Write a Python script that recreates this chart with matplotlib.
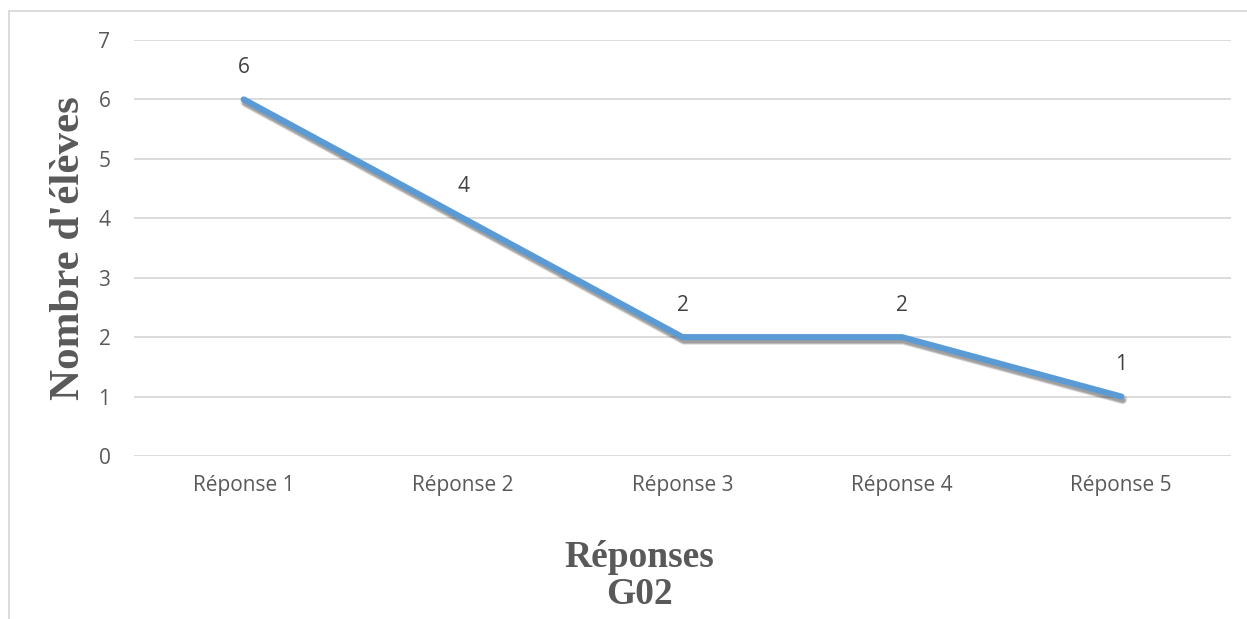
import matplotlib
matplotlib.use("Agg")
import matplotlib.pyplot as plt
import matplotlib.patheffects as pe
from matplotlib.lines import Line2D

categories = ["Réponse 1", "Réponse 2", "Réponse 3", "Réponse 4", "Réponse 5"]
values = [6, 4, 2, 2, 1]
y_ticks = [0, 1, 2, 3, 4, 5, 6, 7]

W, H = 1247, 619
fig = plt.figure(figsize=(W / 100, H / 100), dpi=100)
ax = fig.add_axes([134 / W, 1 - 456 / H, (1231 - 134) / W, (456 - 40) / H])

x = list(range(len(categories)))
shadow = [
    pe.SimpleLineShadow(offset=(1.0, -2.0), shadow_color="#000000", alpha=0.10, linewidth=7.0),
    pe.SimpleLineShadow(offset=(1.0, -2.5), shadow_color="#000000", alpha=0.18, linewidth=5.0),
    pe.SimpleLineShadow(offset=(1.0, -2.5), shadow_color="#000000", alpha=0.15, linewidth=3.5),
    pe.Normal(),
]
ax.plot(x, values, color="#5B9BD5", linewidth=4.4, solid_joinstyle="miter",
        solid_capstyle="round", zorder=3, path_effects=shadow)

for xi, v in zip(x, values):
    ax.annotate(str(v), (xi, v), xytext=(0, 23), textcoords="offset points",
                ha="center", va="center", fontsize=15, color="#404040", family="Open Sans")

ax.set_xlim(-0.5, len(categories) - 0.5)
ax.set_ylim(0, 7)
ax.set_yticks(y_ticks)
ax.set_xticks(x)
ax.set_xticklabels(categories)
ax.grid(axis="y", color="#d9d9d9", linewidth=1.3)
ax.set_axisbelow(True)
for s in ax.spines.values():
    s.set_visible(False)
ax.tick_params(length=0, labelsize=15, labelcolor="#595959")
ax.tick_params(axis="x", pad=14)
ax.tick_params(axis="y", pad=17)
for lbl in ax.get_xticklabels() + ax.get_yticklabels():
    lbl.set_family("Open Sans")

fig.text(69 / W, 1 - 248 / H, "Nombre d'élèves", rotation=90, ha="center", va="center",
         fontsize=31, fontweight="bold", color="#595959", family="Liberation Serif")
fig.text(639 / W, 1 - 576 / H, "Réponses\nG02", ha="center", va="center",
         fontsize=27, fontweight="bold", color="#595959", family="Liberation Serif",
         linespacing=1.08)

# chart frame
fig.add_artist(Line2D([9 / W, 9 / W], [0, 1 - 11 / H], transform=fig.transFigure,
                      color="#d9d9d9", linewidth=1.3))
fig.add_artist(Line2D([9 / W, 1], [1 - 11 / H, 1 - 11 / H], transform=fig.transFigure,
                      color="#d9d9d9", linewidth=1.3))

fig.savefig("out.png", dpi=100, facecolor="white")
